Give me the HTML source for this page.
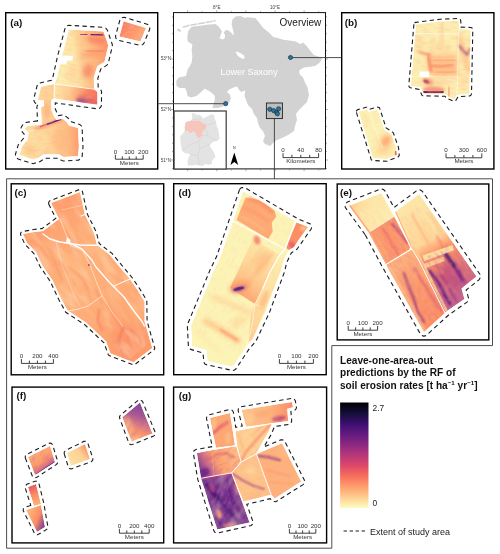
<!DOCTYPE html>
<html><head><meta charset="utf-8"><title>Figure</title>
<style>
html,body{margin:0;padding:0;background:#fff;}
svg{display:block;font-family:"Liberation Sans",sans-serif;}
</style></head><body>
<svg width="500" height="554" viewBox="0 0 500 554">
<rect width="500" height="554" fill="#fff"/>
<defs>

<filter id="b05" x="-50%" y="-50%" width="200%" height="200%"><feGaussianBlur stdDeviation="0.5"/></filter>
<filter id="b1" x="-50%" y="-50%" width="200%" height="200%"><feGaussianBlur stdDeviation="1"/></filter>
<filter id="b2" x="-50%" y="-50%" width="200%" height="200%"><feGaussianBlur stdDeviation="2"/></filter>
<filter id="b3" x="-50%" y="-50%" width="200%" height="200%"><feGaussianBlur stdDeviation="3"/></filter>
<filter id="b5" x="-50%" y="-50%" width="200%" height="200%"><feGaussianBlur stdDeviation="5"/></filter>
<filter id="nzr" x="0" y="0" width="100%" height="100%" filterUnits="objectBoundingBox"><feTurbulence type="fractalNoise" baseFrequency="0.14 0.4" numOctaves="3" seed="4"/><feColorMatrix type="matrix" values="0 0 0 0 0.95  0 0 0 0 0.40  0 0 0 0 0.36  3.2 0 0 0 -1.45"/></filter>
<filter id="nzp" x="0" y="0" width="100%" height="100%" filterUnits="objectBoundingBox"><feTurbulence type="fractalNoise" baseFrequency="0.14 0.4" numOctaves="3" seed="9"/><feColorMatrix type="matrix" values="0 0 0 0 0.39  0 0 0 0 0.10  0 0 0 0 0.50  3.2 0 0 0 -1.45"/></filter>
<filter id="nzl" x="0" y="0" width="100%" height="100%" filterUnits="objectBoundingBox"><feTurbulence type="fractalNoise" baseFrequency="0.14 0.4" numOctaves="3" seed="14"/><feColorMatrix type="matrix" values="0 0 0 0 0.99  0 0 0 0 0.90  0 0 0 0 0.68  3.2 0 0 0 -1.45"/></filter>
<filter id="nzl2" x="0" y="0" width="100%" height="100%" filterUnits="objectBoundingBox"><feTurbulence type="fractalNoise" baseFrequency="0.04 0.12" numOctaves="2" seed="21"/><feColorMatrix type="matrix" values="0 0 0 0 0.996  0 0 0 0 0.84  0 0 0 0 0.60  3.2 0 0 0 -1.45"/></filter>
<linearGradient id="magma" x1="0" y1="0" x2="0" y2="1">
<stop offset="0" stop-color="#000004"/><stop offset=".1" stop-color="#140e36"/><stop offset=".2" stop-color="#3b0f70"/>
<stop offset=".3" stop-color="#641a80"/><stop offset=".4" stop-color="#8c2981"/><stop offset=".5" stop-color="#b73779"/>
<stop offset=".6" stop-color="#de4968"/><stop offset=".7" stop-color="#f7705c"/><stop offset=".8" stop-color="#fe9f6d"/>
<stop offset=".9" stop-color="#fecf92"/><stop offset="1" stop-color="#fcfdbf"/></linearGradient>
<clipPath id="c1"><polygon points="123.6,21.2 146.0,27.9 140.4,41.5 119.4,36.6"/></clipPath><linearGradient id="ga1" gradientUnits="userSpaceOnUse" x1="121" y1="24" x2="144" y2="40"><stop offset="0" stop-color="#f97b5d"/><stop offset="0.5" stop-color="#fd9668"/><stop offset="1" stop-color="#feb27a"/></linearGradient><clipPath id="c2"><polygon points="68.8,29.4 103.5,31.5 108.3,45.5 104.5,61.8 97.3,66.3 93.8,77.4 94.2,89.4 54.6,84.0 57.0,77.4 61.6,57.0 66.4,39.0"/></clipPath><linearGradient id="ga2" gradientUnits="userSpaceOnUse" x1="62" y1="60" x2="108" y2="54"><stop offset="0" stop-color="#fceeb0"/><stop offset="0.28" stop-color="#fde5a7"/><stop offset="0.44" stop-color="#fecc8f"/><stop offset="0.75" stop-color="#feb27a"/><stop offset="1" stop-color="#fd9869"/></linearGradient><clipPath id="c3"><polygon points="54.6,84.0 94.2,89.2 97.4,92.0 97.4,104.7 54.2,98.6"/></clipPath><linearGradient id="ga3" gradientUnits="userSpaceOnUse" x1="55" y1="92" x2="98" y2="98"><stop offset="0" stop-color="#fde3a5"/><stop offset="0.3" stop-color="#fecf92"/><stop offset="0.55" stop-color="#feaa74"/><stop offset="0.8" stop-color="#f97b5d"/><stop offset="1" stop-color="#f4695c"/></linearGradient><clipPath id="c4"><polygon points="41.0,86.8 54.0,84.0 54.0,98.4 51.2,100.2 51.2,109.6 53.6,115.6 56.5,120.0 62.7,119.1 66.3,121.8 69.0,125.4 78.0,128.1 78.9,147.0 78.0,156.0 63.6,156.9 59.1,154.2 43.8,154.2 38.4,157.8 33.0,159.6 19.5,155.1 22.2,146.1 27.6,139.8 28.5,132.6 24.9,129.0 26.7,126.3 42.0,124.5 41.6,121.6 41.0,107.2 44.0,106.0 44.0,100.4 38.0,100.0 38.2,98.2"/></clipPath><linearGradient id="ga4" gradientUnits="userSpaceOnUse" x1="22" y1="140" x2="80" y2="138"><stop offset="0" stop-color="#fde3a5"/><stop offset="0.5" stop-color="#fed395"/><stop offset="0.8" stop-color="#febb81"/><stop offset="1" stop-color="#fd9b6b"/></linearGradient><clipPath id="c5"><polygon points="415.9,24.4 440.6,21.2 458.7,20.5 459.2,29.0 470.8,29.5 469.5,93.9 456.9,94.8 454.2,99.4 447.8,96.6 446.0,94.3 423.5,93.9 420.8,87.6 410.8,85.8 413.5,55.1"/></clipPath><clipPath id="c6"><polygon points="358.6,111.8 366.6,109.4 369.0,111.8 377.8,109.4 384.2,129.4 391.4,134.2 396.2,147.8 397.0,155.0 386.6,159.0 373.0,158.2"/></clipPath><clipPath id="c7"><polygon points="51.0,203.0 80.0,192.0 85.0,215.0 94.0,233.0 97.0,245.0 110.0,255.0 118.0,265.0 130.0,279.0 138.0,290.8 144.6,301.8 144.6,321.6 152.3,348.0 133.6,362.3 110.5,353.5 106.1,341.4 86.3,322.7 67.6,310.6 61.0,298.5 52.2,279.8 42.0,265.0 36.0,252.0 27.0,243.0 23.0,234.0 34.0,232.0 43.0,231.0 59.0,219.0"/></clipPath><linearGradient id="gc1" gradientUnits="userSpaceOnUse" x1="40" y1="230" x2="150" y2="340"><stop offset="0" stop-color="#fea16e"/><stop offset="0.35" stop-color="#feb27a"/><stop offset="0.7" stop-color="#feaa74"/><stop offset="1" stop-color="#fd9b6b"/></linearGradient><clipPath id="c8"><polygon points="243.0,191.0 295.0,221.0 296.0,222.0 308.0,227.0 300.0,238.0 294.0,247.0 289.0,250.0 287.0,253.0 283.0,262.0 281.2,270.0 274.6,287.6 265.8,311.8 252.6,339.3 246.0,347.0 232.8,366.8 207.5,361.3 206.4,350.3 192.1,345.9 191.0,325.0 193.2,320.6 214.0,270.0 220.0,258.0 233.0,221.0"/></clipPath><linearGradient id="gdb" gradientUnits="userSpaceOnUse" x1="268" y1="244" x2="238" y2="292"><stop offset="0" stop-color="#fde7a9"/><stop offset="0.45" stop-color="#fed799"/><stop offset="0.8" stop-color="#febf84"/><stop offset="1" stop-color="#fea571"/></linearGradient><linearGradient id="gds" gradientUnits="userSpaceOnUse" x1="284" y1="255" x2="250" y2="340"><stop offset="0" stop-color="#fcf0b2"/><stop offset="0.4" stop-color="#fde2a3"/><stop offset="1" stop-color="#fecf92"/></linearGradient><clipPath id="c9"><polygon points="349.0,205.7 381.4,193.1 394.3,216.5 368.8,232.7"/></clipPath><linearGradient id="ge1" gradientUnits="userSpaceOnUse" x1="352" y1="207" x2="392" y2="215"><stop offset="0" stop-color="#fed194"/><stop offset="0.25" stop-color="#fde5a7"/><stop offset="1" stop-color="#fceeb0"/></linearGradient><clipPath id="c10"><polygon points="368.8,232.7 394.3,216.5 410.2,247.0 409.3,249.8 385.9,264.2"/></clipPath><clipPath id="c11"><polygon points="394.9,212.0 419.2,194.0 476.5,276.5 461.5,288.5 464.5,299.0 445.0,312.5 419.2,260.6 410.6,246.8"/></clipPath><linearGradient id="ge2" gradientUnits="userSpaceOnUse" x1="408" y1="200" x2="462" y2="300"><stop offset="0" stop-color="#fde7a9"/><stop offset="0.4" stop-color="#fed799"/><stop offset="0.52" stop-color="#fd9668"/><stop offset="0.75" stop-color="#de7074"/><stop offset="1" stop-color="#c4648c"/></linearGradient><clipPath id="ce2lo"><polygon points="419,262 452,240 480,275 445,315"/></clipPath><clipPath id="c12"><polygon points="385.9,264.8 409.8,250.4 412.4,249.2 419.2,261.5 445.0,313.0 424.0,332.0"/></clipPath><linearGradient id="ge3" gradientUnits="userSpaceOnUse" x1="392" y1="262" x2="440" y2="322"><stop offset="0" stop-color="#feb47b"/><stop offset="0.5" stop-color="#fd9869"/><stop offset="1" stop-color="#fc8e64"/></linearGradient><clipPath id="c13"><polygon points="28.0,457.0 50.0,446.0 55.0,462.0 35.0,475.0"/></clipPath><linearGradient id="gf1" gradientUnits="userSpaceOnUse" x1="33" y1="452" x2="48" y2="472"><stop offset="0" stop-color="#feb27a"/><stop offset="0.55" stop-color="#fd9668"/><stop offset="0.8" stop-color="#c8688a"/><stop offset="1" stop-color="#6a3588"/></linearGradient><clipPath id="c14"><polygon points="67.0,453.0 85.0,444.0 90.0,459.0 71.0,466.0"/></clipPath><linearGradient id="gf2" gradientUnits="userSpaceOnUse" x1="70" y1="462" x2="88" y2="448"><stop offset="0" stop-color="#fde0a1"/><stop offset="0.6" stop-color="#fecf92"/><stop offset="1" stop-color="#fc9065"/></linearGradient><clipPath id="c15"><polygon points="28.0,487.0 36.0,484.0 41.0,504.0 34.0,506.0"/></clipPath><linearGradient id="gf3" gradientUnits="userSpaceOnUse" x1="30" y1="486" x2="38" y2="505"><stop offset="0" stop-color="#ea5661"/><stop offset="0.5" stop-color="#fc8e64"/><stop offset="1" stop-color="#feb47b"/></linearGradient><clipPath id="c16"><polygon points="26.0,510.0 41.0,505.0 45.0,527.0 37.0,532.0"/></clipPath><linearGradient id="gf4" gradientUnits="userSpaceOnUse" x1="28" y1="515" x2="45" y2="522"><stop offset="0" stop-color="#feb27a"/><stop offset="0.55" stop-color="#fc9065"/><stop offset="1" stop-color="#8a4590"/></linearGradient><clipPath id="c17"><polygon points="139.9,402.6 152.5,433.4 131.5,441.8 122.4,417.3"/></clipPath><linearGradient id="gf5" gradientUnits="userSpaceOnUse" x1="142" y1="405" x2="132" y2="440"><stop offset="0" stop-color="#86449a"/><stop offset="0.3" stop-color="#a8588f"/><stop offset="0.55" stop-color="#d87a84"/><stop offset="0.78" stop-color="#fd9668"/><stop offset="1" stop-color="#fec488"/></linearGradient><clipPath id="c18"><polygon points="210.0,418.0 230.0,413.0 235.0,445.4 216.0,448.0"/></clipPath><clipPath id="c19"><polygon points="241.6,410.0 292.0,402.0 293.0,407.2 287.2,408.8 288.2,421.0 272.0,423.2 246.0,426.8"/></clipPath><linearGradient id="gg2" gradientUnits="userSpaceOnUse" x1="245" y1="415" x2="290" y2="410"><stop offset="0" stop-color="#fec488"/><stop offset="0.55" stop-color="#feb47b"/><stop offset="1" stop-color="#fc8e64"/></linearGradient><clipPath id="c20"><polygon points="235.0,431.0 272.0,423.6 268.0,433.0 262.0,443.0 256.4,454.0 241.2,462.0 237.0,447.0"/></clipPath><clipPath id="c21"><polygon points="196.8,452.8 236.4,446.0 241.2,462.0 231.6,472.9 201.1,478.2"/></clipPath><linearGradient id="gg4" gradientUnits="userSpaceOnUse" x1="238" y1="452" x2="199" y2="476"><stop offset="0" stop-color="#febf84"/><stop offset="0.5" stop-color="#fea16e"/><stop offset="0.72" stop-color="#c8688a"/><stop offset="0.95" stop-color="#6a3588"/></linearGradient><clipPath id="c22"><polygon points="201.1,478.2 231.6,472.9 249.6,522.4 217.2,529.6"/></clipPath><clipPath id="c23"><polygon points="231.6,472.9 241.2,462.0 256.4,454.0 271.2,494.8 243.2,501.6"/></clipPath><clipPath id="c24"><polygon points="256.4,454.0 282.0,443.2 301.2,481.6 274.8,498.4 271.2,494.8"/></clipPath>
</defs>
<path d="M6.6 178.8H492.5V345.6H331.8V548.2H6.6Z" fill="none" stroke="#4d4d4d" stroke-width="1"/>
<rect x="5.7" y="12.7" width="152.0" height="156.3" fill="#fff" stroke="#000" stroke-width="1.4"/>
<rect x="173.5" y="12.6" width="152.0" height="156.3" fill="#fff" stroke="#111" stroke-width="1.0"/>
<rect x="341.7" y="12.7" width="152.2" height="156.3" fill="#fff" stroke="#000" stroke-width="1.4"/>
<rect x="11.2" y="183.8" width="152.5" height="191.0" fill="#fff" stroke="#000" stroke-width="1.4"/>
<rect x="173.7" y="183.7" width="152.5" height="191.0" fill="#fff" stroke="#000" stroke-width="1.4"/>
<rect x="337.2" y="184.0" width="151.6" height="155.9" fill="#fff" stroke="#000" stroke-width="1.4"/>
<rect x="12.0" y="387.1" width="151.7" height="155.8" fill="#fff" stroke="#000" stroke-width="1.4"/>
<rect x="173.6" y="387.1" width="153.0" height="155.8" fill="#fff" stroke="#000" stroke-width="1.4"/>
<polygon points="191.6,26.8 198.0,26.0 206.8,24.7 215.6,24.1 218.8,26.8 222.0,31.6 220.4,35.6 219.6,38.0 222.0,39.6 224.4,38.8 225.2,35.6 223.6,32.4 226.0,30.0 229.2,30.8 232.4,34.0 234.0,35.6 233.2,30.8 231.6,24.4 232.4,19.6 235.6,16.4 240.4,16.1 245.2,18.0 247.2,17.2 255.3,18.1 259.8,23.5 263.4,28.0 268.8,32.5 273.3,37.0 277.8,37.9 283.2,39.7 289.5,40.6 295.8,41.5 300.3,44.2 303.0,42.4 306.6,46.0 310.2,50.5 313.8,55.0 319.2,56.8 321.9,58.6 320.1,62.2 315.6,65.8 310.2,66.7 303.9,67.6 299.4,70.3 299.4,73.9 303.0,77.5 304.8,82.0 307.5,87.4 309.0,95.0 307.0,102.0 303.0,106.0 299.0,110.0 296.0,114.0 297.0,120.0 295.0,126.0 294.0,131.0 288.0,135.0 282.0,138.0 277.0,140.0 273.0,143.0 270.0,146.0 265.0,144.0 263.0,141.0 265.0,136.0 263.0,131.0 260.0,128.0 258.0,123.0 257.0,118.0 254.0,114.0 252.0,109.0 248.0,105.0 246.0,100.0 244.5,96.0 245.2,90.4 241.2,92.0 238.8,89.6 237.2,86.4 234.0,87.2 229.2,89.6 226.8,92.0 230.0,94.4 230.8,98.4 229.2,102.4 226.0,104.0 222.8,106.4 218.0,108.0 212.4,108.0 213.5,104.0 214.8,100.0 214.8,96.0 212.4,93.6 208.4,90.4 204.4,88.8 201.2,92.0 196.4,96.0 190.8,97.6 187.6,96.0 186.8,92.0 185.2,88.0 179.6,88.0 176.4,85.6 176.4,80.8 178.8,77.6 186.0,76.0 187.6,69.6 188.4,68.4 191.6,62.8 192.4,56.4 191.6,50.0 192.4,44.4 187.6,41.2 187.3,36.4 188.4,30.8" fill="#d2d2d2"/>
<path d="M182.8 27.2L190 25.2L200 23.6L210 21.8L215.6 20.6" stroke="#d2d2d2" stroke-width="1.5" fill="none" stroke-dasharray="7 0.8"/>
<ellipse cx="179" cy="30.2" rx="2.2" ry="1.2" fill="#d2d2d2" transform="rotate(30 179 30.2)"/>
<polygon points="235.5,51.5 238,52 241,53.5 244,55.5 244.8,58 243,59 240,57.5 237.5,55.5" fill="#fff"/>
<text x="220.6" y="75.2" font-size="9" fill="#fff">Lower Saxony</text>
<text x="279.6" y="25.7" font-size="10" fill="#1a1a1a">Overview</text>
<path d="M187.7 12.2V10.399999999999999M187.7 169.4V171.20000000000002M202.2 12.2V11.1M202.2 169.4V170.5M216.8 12.2V10.399999999999999M216.8 169.4V171.20000000000002M231.4 12.2V11.1M231.4 169.4V170.5M245.9 12.2V10.399999999999999M245.9 169.4V171.20000000000002M260.5 12.2V11.1M260.5 169.4V170.5M275.0 12.2V10.399999999999999M275.0 169.4V171.20000000000002M289.6 12.2V11.1M289.6 169.4V170.5M304.1 12.2V10.399999999999999M304.1 169.4V171.20000000000002M318.7 12.2V11.1M318.7 169.4V170.5M173 16.9H172.0M326 16.9H327.0M173 25.3H172.0M326 25.3H327.0M173 33.7H172.0M326 33.7H327.0M173 42.2H172.0M326 42.2H327.0M173 50.6H172.0M326 50.6H327.0M173 59.0H171.2M326 59.0H327.8M173 67.4H172.0M326 67.4H327.0M173 75.8H172.0M326 75.8H327.0M173 84.3H172.0M326 84.3H327.0M173 92.7H172.0M326 92.7H327.0M173 101.1H172.0M326 101.1H327.0M173 109.5H171.2M326 109.5H327.8M173 117.9H172.0M326 117.9H327.0M173 126.4H172.0M326 126.4H327.0M173 134.8H172.0M326 134.8H327.0M173 143.2H172.0M326 143.2H327.0M173 151.6H172.0M326 151.6H327.0M173 160.0H171.2M326 160.0H327.8M173 168.5H172.0M326 168.5H327.0" stroke="#555" stroke-width="0.5" fill="none"/>
<text x="216.8" y="9.4" font-size="4.6" text-anchor="middle" fill="#444">8°E</text>
<text x="275" y="9.4" font-size="4.6" text-anchor="middle" fill="#444">10°E</text>
<text x="171" y="60.4" font-size="4.6" text-anchor="end" fill="#444">53°N</text>
<text x="171" y="111.4" font-size="4.6" text-anchor="end" fill="#444">52°N</text>
<text x="171" y="161.9" font-size="4.6" text-anchor="end" fill="#444">51°N</text>
<path d="M158.4 103.7H225.7M290.5 57.6H341M274.4 118.6V179" stroke="#3a3a3a" stroke-width="0.9" fill="none"/>
<rect x="266.4" y="103" width="16" height="15.6" fill="#bdbdbd" stroke="#222" stroke-width="0.9"/>
<circle cx="269.8" cy="109.3" r="2.1" fill="#2f7398" stroke="#143648" stroke-width="0.7"/>
<circle cx="273.6" cy="110.6" r="2.1" fill="#2f7398" stroke="#143648" stroke-width="0.7"/>
<circle cx="276.6" cy="112.4" r="2.1" fill="#2f7398" stroke="#143648" stroke-width="0.7"/>
<circle cx="278.6" cy="108.8" r="2.1" fill="#2f7398" stroke="#143648" stroke-width="0.7"/>
<circle cx="277.4" cy="113.8" r="2.1" fill="#2f7398" stroke="#143648" stroke-width="0.7"/>
<circle cx="225.7" cy="103.7" r="2.1" fill="#2f7398" stroke="#143648" stroke-width="0.7"/>
<circle cx="290.5" cy="57.5" r="2.1" fill="#2f7398" stroke="#143648" stroke-width="0.7"/>
<rect x="174.1" y="111" width="52.1" height="58" fill="#fff" stroke="#4a4a4a" stroke-width="1.3"/>
<polygon points="191.6,113.6 194.4,113.3 196.5,115.0 199.3,114.7 202.1,116.4 202.1,118.5 204.9,117.8 208.4,115.7 211.9,114.3 214.0,115.0 214.7,118.5 216.1,122.0 216.8,126.2 218.2,129.0 218.9,133.9 219.6,138.8 216.8,140.9 214.0,141.6 210.5,143.7 209.8,146.5 212.6,150.0 214.7,154.2 215.4,157.0 213.3,159.1 211.9,161.2 211.9,164.0 208.4,164.7 205.6,164.0 202.1,166.1 199.3,165.4 195.8,164.7 192.3,165.4 188.1,165.4 187.4,161.9 188.8,157.0 190.2,154.2 187.4,153.5 183.9,152.8 181.8,150.0 181.1,145.8 180.4,140.9 180.4,136.0 183.2,133.2 184.6,130.4 185.3,127.6 184.6,124.8 186.0,122.0 189.5,121.3 191.6,119.9 192.3,116.4" fill="#e3e3e3"/>
<polyline points="202.1,135.3 198.6,141.6 190.2,144.4 182.5,150.0" fill="none" stroke="#cfcfcf" stroke-width="0.5"/>
<polyline points="198.6,141.6 200.0,148.6 205.6,145.8 210.5,143.7" fill="none" stroke="#cfcfcf" stroke-width="0.5"/>
<polyline points="200.0,148.6 197.9,155.6 190.2,154.2" fill="none" stroke="#cfcfcf" stroke-width="0.5"/>
<polyline points="197.9,155.6 199.3,165.4" fill="none" stroke="#cfcfcf" stroke-width="0.5"/>
<polyline points="205.6,128.3 208.4,136.0 216.8,140.9" fill="none" stroke="#cfcfcf" stroke-width="0.5"/>
<polyline points="206.3,125.5 214.0,123.4 216.1,122.0" fill="none" stroke="#cfcfcf" stroke-width="0.5"/>
<polyline points="208.4,136.0 202.1,135.3" fill="none" stroke="#cfcfcf" stroke-width="0.5"/>
<polyline points="191.6,119.9 202.1,118.5" fill="none" stroke="#cfcfcf" stroke-width="0.5"/>
<polygon points="186.0,122.0 189.5,121.3 191.6,120.6 194.4,120.9 197.2,120.6 200.0,121.3 202.1,122.7 204.9,124.1 206.3,125.5 205.6,128.3 203.5,130.4 202.1,132.5 202.1,135.3 199.3,137.4 197.2,138.1 196.5,135.3 195.1,132.5 193.0,131.1 190.9,133.2 189.5,132.5 188.1,131.1 185.3,131.1 184.6,127.6 185.3,124.8" fill="#f7c5bb"/>
<polygon points="234.3,152.6 238.2,164.9 234.3,162 230.4,164.9" fill="#000"/>
<text x="234.3" y="149.3" font-size="3.6" text-anchor="middle" fill="#333">N</text>
<g clip-path="url(#c1)"><polygon points="123.6,21.2 146.0,27.9 140.4,41.5 119.4,36.6" fill="url(#ga1)"/><rect x="118" y="20" width="30" height="24" filter="url(#nzr)" opacity="0.5" transform="rotate(-15 133.0 32.0)"/></g>
<g clip-path="url(#c2)"><polygon points="68.8,29.4 103.5,31.5 108.3,45.5 104.5,61.8 97.3,66.3 93.8,77.4 94.2,89.4 54.6,84.0 57.0,77.4 61.6,57.0 66.4,39.0" fill="url(#ga2)"/><ellipse cx="96" cy="40" rx="11" ry="3.5" fill="#f8765c" opacity="0.7" filter="url(#b2)" transform="rotate(6 96 40)"/><path d="M86 50.5 L94 51.5 L103 50.5" fill="none" stroke="#e75263" stroke-width="1.6" opacity="0.7" stroke-linecap="round" stroke-linejoin="round" filter="url(#b1)"/><ellipse cx="92" cy="54" rx="12" ry="3" fill="#fc8e64" opacity="0.5" filter="url(#b2)" transform="rotate(-8 92 54)"/><path d="M80.6 34.2 L87 34.5" fill="none" stroke="#701f81" stroke-width="1.1" opacity="0.9" stroke-linecap="round" stroke-linejoin="round" filter="url(#b05)"/><path d="M91 34.6 L102.8 34.9" fill="none" stroke="#4f127b" stroke-width="1.2" opacity="0.95" stroke-linecap="round" stroke-linejoin="round" filter="url(#b05)"/><ellipse cx="88" cy="71" rx="5" ry="7" fill="#f97b5d" opacity="0.7" filter="url(#b2)" transform="rotate(10 88 71)"/><ellipse cx="72" cy="74" rx="7" ry="9" fill="#fed597" opacity="0.6" filter="url(#b2)"/><ellipse cx="84" cy="44" rx="5" ry="8" fill="#fecc8f" opacity="0.4" filter="url(#b2)"/><rect x="50" y="25" width="62" height="70" filter="url(#nzr)" opacity="0.22" transform="rotate(8 81.0 60.0)"/></g>
<g clip-path="url(#c3)"><polygon points="54.6,84.0 94.2,89.2 97.4,92.0 97.4,104.7 54.2,98.6" fill="url(#ga3)"/><ellipse cx="86" cy="100" rx="9" ry="3.5" fill="#c8587a" opacity="0.75" filter="url(#b2)" transform="rotate(18 86 100)"/><ellipse cx="81" cy="101" rx="5" ry="1.8" fill="#8a3f8a" opacity="0.8" filter="url(#b1)" transform="rotate(18 81 101)"/><ellipse cx="93" cy="95" rx="4" ry="3" fill="#fc8e64" opacity="0.5" filter="url(#b2)"/><rect x="52" y="82" width="48" height="25" filter="url(#nzr)" opacity="0.3" transform="rotate(8 76.0 94.5)"/></g>
<g clip-path="url(#c4)"><polygon points="41.0,86.8 54.0,84.0 54.0,98.4 51.2,100.2 51.2,109.6 53.6,115.6 56.5,120.0 62.7,119.1 66.3,121.8 69.0,125.4 78.0,128.1 78.9,147.0 78.0,156.0 63.6,156.9 59.1,154.2 43.8,154.2 38.4,157.8 33.0,159.6 19.5,155.1 22.2,146.1 27.6,139.8 28.5,132.6 24.9,129.0 26.7,126.3 42.0,124.5 41.6,121.6 41.0,107.2 44.0,106.0 44.0,100.4 38.0,100.0 38.2,98.2" fill="url(#ga4)"/><path d="M36 129 L47 125 L61 119.5" fill="none" stroke="#f8765c" stroke-width="3.5" opacity="0.5" stroke-linecap="round" stroke-linejoin="round" filter="url(#b1)"/><path d="M40.4 126.6 L44 125.2 L47.6 124" fill="none" stroke="#d6456c" stroke-width="1.2" opacity="0.8" stroke-linecap="round" stroke-linejoin="round" filter="url(#b05)"/><path d="M47.6 124 L52 122.6 L56 121 L60.8 119.3" fill="none" stroke="#641a80" stroke-width="1.4" opacity="0.95" stroke-linecap="round" stroke-linejoin="round" filter="url(#b05)"/><ellipse cx="47" cy="110" rx="3.5" ry="9" fill="#fea36f" opacity="0.6" filter="url(#b2)"/><ellipse cx="48" cy="93" rx="5" ry="6" fill="#fed597" opacity="0.8" filter="url(#b2)"/><ellipse cx="40" cy="142" rx="9" ry="10" fill="#fddea0" opacity="0.6" filter="url(#b2)"/><ellipse cx="60" cy="140" rx="8" ry="10" fill="#feb77e" opacity="0.5" filter="url(#b2)"/><ellipse cx="30" cy="150" rx="6" ry="5" fill="#feb77e" opacity="0.5" filter="url(#b2)"/><rect x="18" y="84" width="64" height="78" filter="url(#nzr)" opacity="0.25"/></g><polygon points="59,55.8 72.8,55.8 72.8,60.6 67,60.6 66,64.2 58,64.2" fill="#fff"/><path d="M54.6 84 L94.2 89.3" fill="none" stroke="#fff" stroke-width="0.7" opacity="1" stroke-linecap="round" stroke-linejoin="round"/><path d="M54.3 84 L54.1 98.6" fill="none" stroke="#fff" stroke-width="0.7" opacity="1" stroke-linecap="round" stroke-linejoin="round"/><path d="M38 130 L28 131" fill="none" stroke="#fff" stroke-width="0.6" opacity="0.6" stroke-linecap="round" stroke-linejoin="round"/><path d="M119.9 20.0 L115.6 35.8 L115.7 37.7 L116.6 39.4 L118.5 40.4 L139.7 45.3 L141.3 45.3 L143.0 44.4 L144.0 43.0 L149.7 29.2 L149.8 27.0 L148.9 25.3 L147.1 24.2 L124.2 17.3 L121.6 17.9Z" fill="none" stroke="#1c1c1c" stroke-width="1.1" stroke-dasharray="4.4 3.3"/><path d="M37.5 120.9 L25.3 122.5 L23.6 123.6 L21.4 126.9 L20.8 128.8 L21.0 130.4 L24.2 134.1 L23.7 138.1 L18.3 144.7 L15.4 154.5 L15.6 156.5 L16.7 158.1 L18.2 159.0 L33.0 163.7 L40.2 161.5 L45.0 158.3 L58.0 158.3 L61.7 160.5 L63.6 161.0 L78.5 160.1 L81.0 158.8 L82.1 156.6 L83.0 147.1 L82.1 127.9 L81.7 126.2 L79.7 124.4 L71.5 121.9 L69.2 118.9 L64.3 115.3 L62.7 115.0 L58.5 115.6 L57.3 113.7 L55.3 108.8 L55.3 102.9 L97.0 108.8 L99.1 108.4 L100.9 106.9 L101.5 104.9 L101.5 91.4 L100.7 89.6 L98.2 87.3 L97.9 78.0 L100.8 69.0 L106.9 65.2 L108.3 63.3 L112.4 45.9 L112.2 44.2 L107.4 30.2 L105.8 28.1 L103.7 27.4 L68.9 25.3 L66.9 25.8 L65.4 27.1 L57.6 56.0 L53.1 76.2 L51.6 80.3 L39.6 83.0 L38.1 83.9 L37.1 85.6 L34.2 97.2 L33.9 100.2 L34.3 101.7 L35.3 103.1 L36.7 103.9 L38.3 104.1 L37.2 105.6 L36.9 107.2Z" fill="none" stroke="#1c1c1c" stroke-width="1.1" stroke-dasharray="4.4 3.3"/>
<g clip-path="url(#c5)"><polygon points="415.9,24.4 440.6,21.2 458.7,20.5 459.2,29.0 470.8,29.5 469.5,93.9 456.9,94.8 454.2,99.4 447.8,96.6 446.0,94.3 423.5,93.9 420.8,87.6 410.8,85.8 413.5,55.1" fill="#fceeb0"/><polygon points="426,55 457,54.5 458,76 436,77 429,72" fill="#feb97f" opacity=".85" filter="url(#b2)"/><ellipse cx="440" cy="48" rx="12" ry="5" fill="#fed799" opacity="0.6" filter="url(#b2)" transform="rotate(10 440 48)"/><path d="M418.5 51.5 L424 53.5 L430 54.6" fill="none" stroke="#f8765c" stroke-width="2.2" opacity="0.8" stroke-linecap="round" stroke-linejoin="round" filter="url(#b1)"/><path d="M428.5 57 L429.5 64 L431 71" fill="none" stroke="#f97b5d" stroke-width="3" opacity="0.75" stroke-linecap="round" stroke-linejoin="round" filter="url(#b1)"/><path d="M433 59.5 L444 60.5 L455 60" fill="none" stroke="#fc8e64" stroke-width="1.8" opacity="0.6" stroke-linecap="round" stroke-linejoin="round" filter="url(#b1)"/><path d="M432 66 L442 66.5 L452 65" fill="none" stroke="#f8765c" stroke-width="2.6" opacity="0.6" stroke-linecap="round" stroke-linejoin="round" filter="url(#b1)"/><path d="M436 72.5 L446 72.5 L455 71.5" fill="none" stroke="#fc8e64" stroke-width="1.8" opacity="0.6" stroke-linecap="round" stroke-linejoin="round" filter="url(#b1)"/><ellipse cx="441.5" cy="34" rx="1.8" ry="12" fill="#fec68a" opacity="0.6" filter="url(#b1)"/><ellipse cx="420" cy="45" rx="5" ry="8" fill="#fed799" opacity="0.6" filter="url(#b2)" transform="rotate(10 420 45)"/><path d="M459.8 46 L463 50.5 L467 54.5" fill="none" stroke="#701f81" stroke-width="2.2" opacity="0.9" stroke-linecap="round" stroke-linejoin="round" filter="url(#b1)"/><path d="M467 54.5 L469.5 49" fill="none" stroke="#aa337d" stroke-width="1.8" opacity="0.8" stroke-linecap="round" stroke-linejoin="round" filter="url(#b1)"/><path d="M460 38 L464 54 L468.5 70" fill="none" stroke="#feae77" stroke-width="5" opacity="0.65" stroke-linecap="round" stroke-linejoin="round" filter="url(#b2)"/><path d="M424.6 91.7 L433 92.1 L442.4 91.9" fill="none" stroke="#451077" stroke-width="2.7" opacity="0.95" stroke-linecap="round" stroke-linejoin="round" filter="url(#b05)"/><ellipse cx="434" cy="89.5" rx="11" ry="3" fill="#f56b5c" opacity="0.65" filter="url(#b1)" transform="rotate(2 434 89.5)"/><ellipse cx="426.5" cy="81.6" rx="3.2" ry="1.8" fill="#641a80" opacity="0.9" filter="url(#b05)" transform="rotate(22 426.5 81.6)"/><ellipse cx="428" cy="81.5" rx="6" ry="3.5" fill="#f8765c" opacity="0.6" filter="url(#b1)" transform="rotate(20 428 81.5)"/><path d="M448.3 87.6 L448.8 95.7" fill="none" stroke="#f8765c" stroke-width="2" opacity="0.8" stroke-linecap="round" stroke-linejoin="round" filter="url(#b1)"/><ellipse cx="440" cy="83" rx="10" ry="3" fill="#fec68a" opacity="0.5" filter="url(#b2)"/><ellipse cx="463" cy="82" rx="4" ry="8" fill="#fed799" opacity="0.5" filter="url(#b2)"/><rect x="408" y="18" width="66" height="84" filter="url(#nzr)" opacity="0.22" transform="rotate(3 441.0 60.0)"/></g>
<g clip-path="url(#c6)"><polygon points="358.6,111.8 366.6,109.4 369.0,111.8 377.8,109.4 384.2,129.4 391.4,134.2 396.2,147.8 397.0,155.0 386.6,159.0 373.0,158.2" fill="#fcf2b4"/><ellipse cx="384" cy="146" rx="9" ry="12" fill="#fde2a3" opacity="0.7" filter="url(#b3)" transform="rotate(-20 384 146)"/><ellipse cx="386" cy="141" rx="4.5" ry="6.5" fill="#fea36f" opacity="0.85" filter="url(#b2)" transform="rotate(30 386 141)"/><ellipse cx="383" cy="150" rx="7" ry="3" fill="#fec68a" opacity="0.6" filter="url(#b2)" transform="rotate(-20 383 150)"/><ellipse cx="395.8" cy="153" rx="1" ry="2.5" fill="#ed5a5f" opacity="0.9" filter="url(#b05)"/><ellipse cx="366" cy="120" rx="3" ry="8" fill="#fde3a5" opacity="0.6" filter="url(#b2)" transform="rotate(-18 366 120)"/><rect x="356" y="108" width="44" height="54" filter="url(#nzr)" opacity="0.1" transform="rotate(-18 378.0 135.0)"/></g><rect x="419.5" y="71.4" width="9.6" height="5.8" fill="#fff"/><path d="M415 33.5 L458.8 34" fill="none" stroke="#fff" stroke-width="0.6" opacity="0.8" stroke-linecap="round" stroke-linejoin="round"/><path d="M458.9 29 L457 94.5" fill="none" stroke="#fff" stroke-width="0.6" opacity="0.8" stroke-linecap="round" stroke-linejoin="round"/><path d="M440.6 21.2 L441.5 45" fill="none" stroke="#fff" stroke-width="0.5" opacity="0.5" stroke-linecap="round" stroke-linejoin="round"/><path d="M411.5 76.5 L457 76.8" fill="none" stroke="#fff" stroke-width="0.5" opacity="0.7" stroke-linecap="round" stroke-linejoin="round"/><path d="M432 59 L457.5 59" fill="none" stroke="#fff" stroke-width="0.5" opacity="0.5" stroke-linecap="round" stroke-linejoin="round"/><path d="M368.8 112 L382.5 148" fill="none" stroke="#fff" stroke-width="0.5" opacity="0.8" stroke-linecap="round" stroke-linejoin="round"/><path d="M413.9 24.2 L408.8 85.6 L409.2 87.0 L410.4 87.8 L419.4 89.4 L421.7 94.8 L422.8 95.8 L445.0 96.3 L446.7 98.3 L453.9 101.4 L455.6 100.8 L458.1 96.7 L469.7 95.9 L470.8 95.4 L471.5 93.9 L472.8 29.5 L472.3 28.2 L471.0 27.5 L461.1 27.1 L460.7 20.1 L460.0 19.0 L458.9 18.5 L440.3 19.2 L415.5 22.4 L414.4 23.1Z" fill="none" stroke="#1c1c1c" stroke-width="1.1" stroke-dasharray="4.4 3.3"/><path d="M356.4 112.4 L371.3 159.8 L372.8 160.5 L386.8 161.3 L398.5 156.7 L399.3 155.1 L398.5 147.4 L393.5 133.3 L392.8 132.3 L386.1 127.9 L379.5 107.8 L377.5 107.1 L369.7 109.2 L367.8 107.4 L366.1 107.2 L357.4 109.8 L356.5 110.8Z" fill="none" stroke="#1c1c1c" stroke-width="1.1" stroke-dasharray="4.4 3.3"/>
<g clip-path="url(#c7)"><polygon points="51.0,203.0 80.0,192.0 85.0,215.0 94.0,233.0 97.0,245.0 110.0,255.0 118.0,265.0 130.0,279.0 138.0,290.8 144.6,301.8 144.6,321.6 152.3,348.0 133.6,362.3 110.5,353.5 106.1,341.4 86.3,322.7 67.6,310.6 61.0,298.5 52.2,279.8 42.0,265.0 36.0,252.0 27.0,243.0 23.0,234.0 34.0,232.0 43.0,231.0 59.0,219.0" fill="url(#gc1)"/><ellipse cx="70" cy="270" rx="8" ry="22" fill="#fec287" opacity="0.55" filter="url(#b3)" transform="rotate(-28 70 270)"/><ellipse cx="100" cy="300" rx="7" ry="20" fill="#feb77e" opacity="0.5" filter="url(#b3)" transform="rotate(-35 100 300)"/><ellipse cx="66" cy="205" rx="12" ry="6" fill="#fe9f6d" opacity="0.6" filter="url(#b2)" transform="rotate(-20 66 205)"/><ellipse cx="85" cy="228" rx="8" ry="8" fill="#feb77e" opacity="0.5" filter="url(#b2)"/><ellipse cx="124" cy="340" rx="12" ry="14" fill="#fc8e64" opacity="0.45" filter="url(#b3)" transform="rotate(-20 124 340)"/><ellipse cx="136" cy="312" rx="6" ry="10" fill="#feb97f" opacity="0.6" filter="url(#b2)" transform="rotate(-30 136 312)"/><path d="M123.2 327.6 L120 336.4 L118.4 342.8 L122.4 354 L128 360.4" fill="none" stroke="#f4695c" stroke-width="2" opacity="0.65" stroke-linecap="round" stroke-linejoin="round" filter="url(#b1)"/><path d="M123.2 327.6 L132.8 331.6 L139.2 336.4 L140.8 344.4" fill="none" stroke="#f4695c" stroke-width="1.9" opacity="0.6" stroke-linecap="round" stroke-linejoin="round" filter="url(#b1)"/><path d="M99.2 309.2 L97.6 322 L102.4 330" fill="none" stroke="#f66e5c" stroke-width="1.9" opacity="0.6" stroke-linecap="round" stroke-linejoin="round" filter="url(#b1)"/><path d="M107.2 303.6 L114 316 L120 326" fill="none" stroke="#f97b5d" stroke-width="1.8" opacity="0.5" stroke-linecap="round" stroke-linejoin="round" filter="url(#b1)"/><path d="M128 336 L131 346 L130 356" fill="none" stroke="#f97b5d" stroke-width="1.8" opacity="0.5" stroke-linecap="round" stroke-linejoin="round" filter="url(#b1)"/><path d="M96 290 L100 300 L104 310" fill="none" stroke="#f97b5d" stroke-width="1.8" opacity="0.45" stroke-linecap="round" stroke-linejoin="round" filter="url(#b1)"/><path d="M60 262 L75 285" fill="none" stroke="#f97b5d" stroke-width="1.8" opacity="0.45" stroke-linecap="round" stroke-linejoin="round" filter="url(#b1)"/><path d="M40 250 L55 262 L62 280" fill="none" stroke="#f97b5d" stroke-width="1.8" opacity="0.45" stroke-linecap="round" stroke-linejoin="round" filter="url(#b1)"/><path d="M70 268 L84 280 L90 296" fill="none" stroke="#f97b5d" stroke-width="1.8" opacity="0.4" stroke-linecap="round" stroke-linejoin="round" filter="url(#b1)"/><path d="M30 236 L44 246 L52 262" fill="none" stroke="#fec287" stroke-width="2" opacity="0.5" stroke-linecap="round" stroke-linejoin="round" filter="url(#b1)"/><ellipse cx="89" cy="265" rx="1.1" ry="1.1" fill="#912b81" opacity="0.9" filter="url(#b05)"/><rect x="0" y="200" width="170" height="170" filter="url(#nzr)" opacity="0.2" transform="rotate(50 85.0 285.0)"/><rect x="0" y="200" width="170" height="170" filter="url(#nzl2)" opacity="0.3" transform="rotate(52 85.0 285.0)"/></g><path d="M43 234 L50 239 L60 242 L70 243.5 L80 245 L97 245.3" fill="none" stroke="#fff" stroke-width="1.5" opacity="1" stroke-linecap="round" stroke-linejoin="round"/><polygon points="67,237 70.5,240 70,243.5 66,242.5" fill="#fff"/><path d="M70 243 L82 249 L91.8 260 L96 267 L110 283 L124 297 L131 307 L137 315 L142.4 322 L144.4 326" fill="none" stroke="#fff" stroke-width="1.4" opacity="1" stroke-linecap="round" stroke-linejoin="round"/><path d="M60 219 L67 237 L70 245 L83 251 L90 265 L96 281 L102 295.5 L112 312 L122.6 326" fill="none" stroke="#fff" stroke-width="0.6" opacity="0.85" stroke-linecap="round" stroke-linejoin="round"/><path d="M56 241 L62 265 L74 295 L80 306" fill="none" stroke="#fff" stroke-width="0.5" opacity="0.6" stroke-linecap="round" stroke-linejoin="round"/><path d="M67.6 311 L77 309.4 L88 306 L102 296" fill="none" stroke="#fff" stroke-width="0.7" opacity="0.9" stroke-linecap="round" stroke-linejoin="round"/><path d="M114 286 L130 279" fill="none" stroke="#fff" stroke-width="1.0" opacity="1" stroke-linecap="round" stroke-linejoin="round"/><path d="M62 210 L83 205" fill="none" stroke="#fff" stroke-width="0.5" opacity="0.6" stroke-linecap="round" stroke-linejoin="round"/><path d="M81 216 L85 214.5" fill="none" stroke="#fff" stroke-width="1.2" opacity="1" stroke-linecap="round" stroke-linejoin="round"/><path d="M48.7 204.0 L55.8 218.3 L42.0 228.6 L33.6 229.5 L22.4 231.6 L21.3 232.1 L20.6 233.2 L20.6 234.7 L24.8 244.1 L33.9 253.5 L39.9 266.3 L50.0 281.0 L58.8 299.6 L65.8 312.3 L84.7 324.7 L104.0 342.8 L108.2 354.5 L109.1 355.6 L132.8 364.7 L134.8 364.5 L153.8 350.0 L154.8 348.4 L147.1 321.2 L146.8 300.6 L140.1 289.4 L132.0 277.5 L112.0 253.4 L99.2 243.5 L96.3 232.0 L87.4 214.2 L82.4 191.5 L81.7 190.2 L80.4 189.5 L79.2 189.6 L50.0 200.7 L48.7 202.1Z" fill="none" stroke="#1c1c1c" stroke-width="1.1" stroke-dasharray="4.4 3.3"/>
<g clip-path="url(#c8)"><polygon points="243.0,191.0 295.0,221.0 296.0,222.0 308.0,227.0 300.0,238.0 294.0,247.0 289.0,250.0 287.0,253.0 283.0,262.0 281.2,270.0 274.6,287.6 265.8,311.8 252.6,339.3 246.0,347.0 232.8,366.8 207.5,361.3 206.4,350.3 192.1,345.9 191.0,325.0 193.2,320.6 214.0,270.0 220.0,258.0 233.0,221.0" fill="#fcf4b6"/><polygon points="245.7,197.6 261,200.3 274.5,211.1 276.3,216.5 271.8,222.8 272.7,231.8 268.2,239 236.7,220.1 240.3,210.2" fill="#feaa74" filter="url(#b05)"/><path d="M250 199 L262 203.5 L272 212" fill="none" stroke="#fb8761" stroke-width="4" opacity="0.6" stroke-linecap="round" stroke-linejoin="round" filter="url(#b1)"/><path d="M244 208 L256 213 L268 221" fill="none" stroke="#fc9065" stroke-width="3" opacity="0.45" stroke-linecap="round" stroke-linejoin="round" filter="url(#b1)"/><path d="M240 216 L252 222 L264 230" fill="none" stroke="#fec287" stroke-width="2.5" opacity="0.5" stroke-linecap="round" stroke-linejoin="round" filter="url(#b1)"/><polygon points="296.6,222.4 308,227 300,238 294,247 289,250 285.5,247.5" fill="#fc8e64" filter="url(#b05)"/><ellipse cx="303.5" cy="228.5" rx="3.5" ry="2.5" fill="#fec68a" opacity="0.85" filter="url(#b1)"/><ellipse cx="292" cy="245" rx="2.5" ry="4" fill="#e04c67" opacity="0.7" filter="url(#b1)" transform="rotate(-30 292 245)"/><polygon points="253,239 281,255.5 270,272 263,288 255,304 230,288" fill="url(#gdb)" opacity=".95" filter="url(#b05)"/><ellipse cx="257" cy="240" rx="3" ry="4.5" fill="#f4695c" opacity="0.75" filter="url(#b1)" transform="rotate(-20 257 240)"/><path d="M272 254 L262 266 L250 280" fill="none" stroke="#feb97f" stroke-width="3" opacity="0.5" stroke-linecap="round" stroke-linejoin="round" filter="url(#b1)"/><path d="M262 248 L252 262 L243 276" fill="none" stroke="#fec68a" stroke-width="3" opacity="0.45" stroke-linecap="round" stroke-linejoin="round" filter="url(#b1)"/><ellipse cx="262" cy="262" rx="6" ry="12" fill="#feb27a" opacity="0.5" filter="url(#b2)" transform="rotate(25 262 262)"/><ellipse cx="240" cy="287" rx="11" ry="6" fill="#fd9869" opacity="0.75" filter="url(#b2)" transform="rotate(-20 240 287)"/><ellipse cx="239" cy="288.8" rx="7.5" ry="2.8" fill="#a8588f" opacity="0.6" filter="url(#b1)" transform="rotate(-14 239 288.8)"/><ellipse cx="238.8" cy="288.8" rx="5.4" ry="1.7" fill="#52258a" opacity="0.97" filter="url(#b05)" transform="rotate(-14 238.8 288.8)"/><path d="M206 321 L222 330.5 L238 340.5" fill="none" stroke="#fec287" stroke-width="6" opacity="0.8" stroke-linecap="round" stroke-linejoin="round" filter="url(#b2)"/><path d="M221 330 L229 335 L237 340" fill="none" stroke="#fd9668" stroke-width="2.4" opacity="0.8" stroke-linecap="round" stroke-linejoin="round" filter="url(#b1)"/><path d="M213 297 L230 304 L250 313" fill="none" stroke="#fed194" stroke-width="6" opacity="0.6" stroke-linecap="round" stroke-linejoin="round" filter="url(#b2)"/><ellipse cx="238" cy="322" rx="9" ry="5" fill="#fed799" opacity="0.6" filter="url(#b2)" transform="rotate(-30 238 322)"/><path d="M196 330 L206 340 L220 352" fill="none" stroke="#fde2a3" stroke-width="4" opacity="0.5" stroke-linecap="round" stroke-linejoin="round" filter="url(#b2)"/><polygon points="279,256 287,253 283,262 281.2,270 252.6,339.3 248.5,342 250.4,316 255,304 263,288 270,272" fill="url(#gds)" opacity=".95"/><ellipse cx="264" cy="300" rx="3" ry="10" fill="#feb27a" opacity="0.6" filter="url(#b1)" transform="rotate(22 264 300)"/><rect x="180" y="185" width="140" height="190" filter="url(#nzr)" opacity="0.1" transform="rotate(-60 250.0 280.0)"/></g><path d="M233 221 L284 248.5" fill="none" stroke="#fff" stroke-width="1.1" opacity="1" stroke-linecap="round" stroke-linejoin="round"/><path d="M295.6 221 L285 249.5" fill="none" stroke="#fff" stroke-width="1.5" opacity="1" stroke-linecap="round" stroke-linejoin="round"/><path d="M284 250 L279 256 L270 272 L263 288" fill="none" stroke="#fff" stroke-width="1.3" opacity="1" stroke-linecap="round" stroke-linejoin="round"/><path d="M263 288 L255 304 L253 320 L250 334 L247 345" fill="none" stroke="#fff" stroke-width="0.6" opacity="0.9" stroke-linecap="round" stroke-linejoin="round"/><path d="M255 304 L262 307" fill="none" stroke="#fff" stroke-width="0.5" opacity="0.7" stroke-linecap="round" stroke-linejoin="round"/><path d="M239.5 189.7 L216.6 256.6 L210.6 268.6 L187.3 325.0 L188.4 346.3 L189.6 348.6 L190.8 349.4 L203.0 353.1 L203.9 362.2 L204.7 363.8 L205.9 364.6 L232.6 370.5 L234.4 370.1 L235.8 369.0 L249.0 349.2 L255.9 341.1 L269.2 313.2 L284.7 271.3 L286.5 263.2 L290.3 254.8 L291.6 252.7 L297.0 249.2 L311.1 229.0 L311.7 227.3 L311.2 225.2 L309.9 223.8 L298.1 218.9 L244.7 187.7 L241.8 187.5 L240.3 188.4Z" fill="none" stroke="#1c1c1c" stroke-width="1.1" stroke-dasharray="4.4 3.3"/>
<g clip-path="url(#c9)"><polygon points="349.0,205.7 381.4,193.1 394.3,216.5 368.8,232.7" fill="url(#ge1)"/><path d="M349 205.7 L368.8 232.7" fill="none" stroke="#fea571" stroke-width="3" opacity="0.9" stroke-linecap="round" stroke-linejoin="round" filter="url(#b05)"/><ellipse cx="362" cy="206" rx="6" ry="3" fill="#fed799" opacity="0.6" filter="url(#b2)" transform="rotate(-20 362 206)"/><rect x="340" y="185" width="70" height="60" filter="url(#nzr)" opacity="0.12" transform="rotate(58 375.0 215.0)"/></g>
<g clip-path="url(#c10)"><polygon points="368.8,232.7 394.3,216.5 410.2,247.0 409.3,249.8 385.9,264.2" fill="#fd9869"/><path d="M368.8 232.7 L385.9 264.2" fill="none" stroke="#feb47b" stroke-width="3.5" opacity="0.8" stroke-linecap="round" stroke-linejoin="round" filter="url(#b05)"/><path d="M392 223.5 L400 233 L407.5 243" fill="none" stroke="#aa337d" stroke-width="2.0" opacity="0.8" stroke-linecap="round" stroke-linejoin="round" filter="url(#b1)"/><path d="M383 228 L392 244 L398 254" fill="none" stroke="#e75263" stroke-width="2" opacity="0.6" stroke-linecap="round" stroke-linejoin="round" filter="url(#b1)"/><path d="M376 236 L388 258" fill="none" stroke="#feb27a" stroke-width="2.5" opacity="0.6" stroke-linecap="round" stroke-linejoin="round" filter="url(#b1)"/><rect x="360" y="210" width="60" height="60" filter="url(#nzp)" opacity="0.14" transform="rotate(58 390.0 240.0)"/><rect x="360" y="210" width="60" height="60" filter="url(#nzr)" opacity="0.3" transform="rotate(58 390.0 240.0)"/></g>
<g clip-path="url(#c11)"><polygon points="394.9,212.0 419.2,194.0 476.5,276.5 461.5,288.5 464.5,299.0 445.0,312.5 419.2,260.6 410.6,246.8" fill="url(#ge2)"/><path d="M395.5 213 L410.6 247" fill="none" stroke="#fea571" stroke-width="2.4" opacity="0.8" stroke-linecap="round" stroke-linejoin="round" filter="url(#b05)"/><path d="M412 215 L424 236 L432 250" fill="none" stroke="#feb27a" stroke-width="2.5" opacity="0.7" stroke-linecap="round" stroke-linejoin="round" filter="url(#b1)"/><path d="M420 205 L440 238" fill="none" stroke="#fcecae" stroke-width="3" opacity="0.5" stroke-linecap="round" stroke-linejoin="round" filter="url(#b1)"/><path d="M430 214 L446 240" fill="none" stroke="#fec287" stroke-width="2" opacity="0.6" stroke-linecap="round" stroke-linejoin="round" filter="url(#b1)"/><ellipse cx="452" cy="276" rx="8" ry="16" fill="#aa337d" opacity="0.45" filter="url(#b3)" transform="rotate(-32 452 276)"/><path d="M437 236 L441 244 L446 253" fill="none" stroke="#f3655c" stroke-width="2.2" opacity="0.5" stroke-linecap="round" stroke-linejoin="round" filter="url(#b1)"/><path d="M446 254.5 L450 260.5 L454.2 265.7" fill="none" stroke="#38106c" stroke-width="3.4" opacity="0.95" stroke-linecap="round" stroke-linejoin="round" filter="url(#b1)"/><path d="M454.2 265.7 L458 272 L462.3 280" fill="none" stroke="#641a80" stroke-width="3" opacity="0.8" stroke-linecap="round" stroke-linejoin="round" filter="url(#b1)"/><path d="M429.8 271.1 L438.8 282.8 L445 296 L450 304" fill="none" stroke="#5a167e" stroke-width="2.8" opacity="0.9" stroke-linecap="round" stroke-linejoin="round" filter="url(#b1)"/><path d="M440.6 274.7 L447 283.7" fill="none" stroke="#912b81" stroke-width="2" opacity="0.7" stroke-linecap="round" stroke-linejoin="round" filter="url(#b1)"/><path d="M458.5 270.5 L465 283" fill="none" stroke="#802582" stroke-width="2" opacity="0.8" stroke-linecap="round" stroke-linejoin="round" filter="url(#b1)"/><path d="M449.5 288.5 L456 301" fill="none" stroke="#912b81" stroke-width="2" opacity="0.7" stroke-linecap="round" stroke-linejoin="round" filter="url(#b1)"/><path d="M434 262 L446 282" fill="none" stroke="#cd4071" stroke-width="2" opacity="0.5" stroke-linecap="round" stroke-linejoin="round" filter="url(#b1)"/><path d="M413.2 247.5 L421.4 260.6 L446.6 311" fill="none" stroke="#fec88c" stroke-width="2.6" opacity="0.95" stroke-linecap="round" stroke-linejoin="round" filter="url(#b05)"/><polygon points="422.5,255.5 452.5,245 454,250.2 424.2,261" fill="#fde2a3" opacity=".95"/><polygon points="423.5,263.9 443.3,256.7 444.8,260.9 425.2,268.3" fill="#fed597" opacity=".85"/><rect x="385" y="190" width="100" height="130" filter="url(#nzr)" opacity="0.18" transform="rotate(58 435.0 255.0)"/><g clip-path="url(#ce2lo)"><rect x="385" y="190" width="100" height="130" filter="url(#nzp)" opacity="0.3" transform="rotate(58 435.0 255.0)"/></g></g>
<g clip-path="url(#c12)"><polygon points="385.9,264.8 409.8,250.4 412.4,249.2 419.2,261.5 445.0,313.0 424.0,332.0" fill="url(#ge3)"/><path d="M403.6 272.9 L413.5 298.2 L418 312.6 L424 322" fill="none" stroke="#912b81" stroke-width="2.2" opacity="0.8" stroke-linecap="round" stroke-linejoin="round" filter="url(#b1)"/><path d="M414 268 L427 289 L441.5 312" fill="none" stroke="#d6456c" stroke-width="2" opacity="0.6" stroke-linecap="round" stroke-linejoin="round" filter="url(#b1)"/><path d="M389 268 L408 300 L424 330" fill="none" stroke="#fec68a" stroke-width="3" opacity="0.8" stroke-linecap="round" stroke-linejoin="round" filter="url(#b1)"/><path d="M414 256 L430 286" fill="none" stroke="#feb77e" stroke-width="2" opacity="0.6" stroke-linecap="round" stroke-linejoin="round" filter="url(#b1)"/><rect x="380" y="245" width="70" height="90" filter="url(#nzp)" opacity="0.14" transform="rotate(62 415.0 290.0)"/><rect x="380" y="245" width="70" height="90" filter="url(#nzr)" opacity="0.3" transform="rotate(62 415.0 290.0)"/></g><path d="M394.7 212.5 L410.6 247 L419.2 261 L445 313" fill="none" stroke="#fff" stroke-width="0.8" opacity="1" stroke-linecap="round" stroke-linejoin="round"/><path d="M385.9 264.5 L409.6 250.1" fill="none" stroke="#fff" stroke-width="0.8" opacity="1" stroke-linecap="round" stroke-linejoin="round"/><path d="M365.3 234.9 L382.3 266.8 L420.4 334.0 L421.7 335.4 L423.5 336.1 L425.2 335.9 L426.6 335.2 L448.6 315.0 L467.6 301.7 L468.4 300.4 L468.6 298.5 L466.2 290.0 L479.2 279.6 L480.6 277.1 L479.9 274.2 L422.6 191.7 L421.2 190.4 L419.7 189.9 L416.9 190.6 L394.0 207.5 L384.9 190.9 L383.5 189.6 L381.7 189.0 L379.9 189.3 L347.5 201.9 L345.4 203.8 L344.9 205.7 L345.4 207.6Z" fill="none" stroke="#1c1c1c" stroke-width="1.1" stroke-dasharray="4.4 3.3"/>
<g clip-path="url(#c13)"><polygon points="28.0,457.0 50.0,446.0 55.0,462.0 35.0,475.0" fill="url(#gf1)"/><path d="M37 474 L54 462.5" fill="none" stroke="#641a80" stroke-width="1.5" opacity="0.9" stroke-linecap="round" stroke-linejoin="round" filter="url(#b05)"/><rect x="25" y="443" width="34" height="34" filter="url(#nzp)" opacity="0.25" transform="rotate(-60 42.0 460.0)"/></g>
<g clip-path="url(#c14)"><polygon points="67.0,453.0 85.0,444.0 90.0,459.0 71.0,466.0" fill="url(#gf2)"/></g>
<g clip-path="url(#c15)"><polygon points="28.0,487.0 36.0,484.0 41.0,504.0 34.0,506.0" fill="url(#gf3)"/></g>
<g clip-path="url(#c16)"><polygon points="26.0,510.0 41.0,505.0 45.0,527.0 37.0,532.0" fill="url(#gf4)"/></g>
<g clip-path="url(#c17)"><polygon points="139.9,402.6 152.5,433.4 131.5,441.8 122.4,417.3" fill="url(#gf5)"/><ellipse cx="128" cy="425" rx="4" ry="9" fill="#feb77e" opacity="0.8" filter="url(#b2)" transform="rotate(-20 128 425)"/><rect x="118" y="398" width="40" height="48" filter="url(#nzp)" opacity="0.25" transform="rotate(-70 138.0 422.0)"/></g><path d="M25.3 457.9 L32.4 476.2 L33.2 477.3 L34.5 477.9 L36.5 477.5 L56.6 464.4 L57.9 462.4 L52.7 445.0 L51.7 443.7 L50.5 443.1 L48.7 443.4 L26.6 454.5 L25.3 456.0Z" fill="none" stroke="#1c1c1c" stroke-width="1.1" stroke-dasharray="4.4 3.3"/><path d="M64.2 453.7 L68.4 467.2 L69.2 468.3 L70.5 468.9 L72.0 468.7 L91.1 461.7 L92.2 460.9 L92.8 459.6 L92.8 458.1 L87.7 442.9 L86.8 441.8 L85.6 441.2 L83.8 441.4 L65.6 450.5 L64.3 452.0Z" fill="none" stroke="#1c1c1c" stroke-width="1.1" stroke-dasharray="4.4 3.3"/><path d="M138.1 400.3 L120.4 415.2 L119.5 416.8 L119.7 418.3 L128.8 442.9 L129.7 444.1 L131.0 444.7 L132.6 444.5 L153.7 436.0 L154.8 435.2 L155.4 433.9 L155.2 432.3 L142.5 401.4 L140.6 399.8Z" fill="none" stroke="#1c1c1c" stroke-width="1.1" stroke-dasharray="4.4 3.3"/><path d="M30.8 505.4 L24.4 507.6 L23.3 508.9 L23.2 510.6 L34.5 533.4 L35.9 534.7 L37.6 534.8 L46.7 529.4 L47.6 528.3 L47.9 526.9 L43.8 503.3 L38.8 483.1 L38.0 481.9 L36.8 481.2 L35.1 481.2 L26.8 484.3 L25.2 486.3 L25.2 487.9Z" fill="none" stroke="#1c1c1c" stroke-width="1.1" stroke-dasharray="4.4 3.3"/>
<g clip-path="url(#c18)"><polygon points="210.0,418.0 230.0,413.0 235.0,445.4 216.0,448.0" fill="#fea772"/><path d="M212 434 L219 428 L227 422.5" fill="none" stroke="#e04c67" stroke-width="3.5" opacity="0.65" stroke-linecap="round" stroke-linejoin="round" filter="url(#b1)"/><ellipse cx="214" cy="424" rx="2.5" ry="6" fill="#fec68a" opacity="0.7" filter="url(#b1)" transform="rotate(5 214 424)"/><ellipse cx="228" cy="438" rx="3" ry="6" fill="#fec68a" opacity="0.6" filter="url(#b1)" transform="rotate(5 228 438)"/><rect x="205" y="410" width="35" height="42" filter="url(#nzr)" opacity="0.3" transform="rotate(-50 222.5 431.0)"/></g>
<g clip-path="url(#c19)"><polygon points="241.6,410.0 292.0,402.0 293.0,407.2 287.2,408.8 288.2,421.0 272.0,423.2 246.0,426.8" fill="url(#gg2)"/><ellipse cx="279" cy="418.5" rx="7" ry="2.6" fill="#aa337d" opacity="0.7" filter="url(#b1)" transform="rotate(-8 279 418.5)"/><ellipse cx="262" cy="414" rx="8" ry="2" fill="#fc9065" opacity="0.5" filter="url(#b2)" transform="rotate(-10 262 414)"/><ellipse cx="250" cy="418" rx="4" ry="5" fill="#fed597" opacity="0.6" filter="url(#b2)"/><rect x="238" y="398" width="60" height="32" filter="url(#nzr)" opacity="0.3" transform="rotate(-20 268.0 414.0)"/></g>
<g clip-path="url(#c20)"><polygon points="235.0,431.0 272.0,423.6 268.0,433.0 262.0,443.0 256.4,454.0 241.2,462.0 237.0,447.0" fill="#fed194"/><path d="M270 425 L258 438 L246 452 L241 461" fill="none" stroke="#f8765c" stroke-width="2.2" opacity="0.7" stroke-linecap="round" stroke-linejoin="round" filter="url(#b1)"/><path d="M238 434 L243 448" fill="none" stroke="#fea16e" stroke-width="2" opacity="0.55" stroke-linecap="round" stroke-linejoin="round" filter="url(#b1)"/><path d="M262 426 L252 436" fill="none" stroke="#fd9869" stroke-width="1.6" opacity="0.5" stroke-linecap="round" stroke-linejoin="round" filter="url(#b1)"/><rect x="230" y="420" width="46" height="46" filter="url(#nzr)" opacity="0.3" transform="rotate(-50 253.0 443.0)"/></g>
<g clip-path="url(#c21)"><polygon points="196.8,452.8 236.4,446.0 241.2,462.0 231.6,472.9 201.1,478.2" fill="url(#gg4)"/><path d="M206 460 L216 455 L226 453 L234 457" fill="none" stroke="#d6456c" stroke-width="1.8" opacity="0.6" stroke-linecap="round" stroke-linejoin="round" filter="url(#b1)"/><ellipse cx="205" cy="472" rx="5" ry="4" fill="#641a80" opacity="0.7" filter="url(#b1)" transform="rotate(-20 205 472)"/><path d="M212 452 L214 476" fill="none" stroke="#fec68a" stroke-width="1" opacity="0.35" stroke-linecap="round" stroke-linejoin="round" filter="url(#b05)"/><rect x="194" y="442" width="50" height="40" filter="url(#nzp)" opacity="0.25" transform="rotate(-30 219.0 462.0)"/></g>
<g clip-path="url(#c22)"><polygon points="201.1,478.2 231.6,472.9 249.6,522.4 217.2,529.6" fill="#85458f"/><ellipse cx="222" cy="500" rx="9" ry="20" fill="#641a80" opacity="0.6" filter="url(#b3)" transform="rotate(-18 222 500)"/><path d="M204 482 L212 492 L222 502 L230 512 L238 521" fill="none" stroke="#38106c" stroke-width="3.4" opacity="0.75" stroke-linecap="round" stroke-linejoin="round" filter="url(#b1)"/><path d="M226 478 L232 500 L244 518" fill="none" stroke="#4f127b" stroke-width="2.6" opacity="0.65" stroke-linecap="round" stroke-linejoin="round" filter="url(#b1)"/><path d="M208 500 L216 516 L222 527" fill="none" stroke="#451077" stroke-width="2.4" opacity="0.6" stroke-linecap="round" stroke-linejoin="round" filter="url(#b1)"/><ellipse cx="219" cy="514" rx="2.6" ry="4.5" fill="#fea16e" opacity="0.9" filter="url(#b1)" transform="rotate(-15 219 514)"/><ellipse cx="237" cy="489" rx="2.2" ry="6" fill="#fa815f" opacity="0.7" filter="url(#b1)" transform="rotate(-20 237 489)"/><ellipse cx="212" cy="488" rx="2.5" ry="4.5" fill="#cd4071" opacity="0.6" filter="url(#b1)" transform="rotate(-20 212 488)"/><ellipse cx="229" cy="525" rx="7" ry="2.2" fill="#fea16e" opacity="0.6" filter="url(#b1)" transform="rotate(-12 229 525)"/><path d="M203 479 L231 474" fill="none" stroke="#cd4071" stroke-width="2" opacity="0.5" stroke-linecap="round" stroke-linejoin="round" filter="url(#b1)"/><rect x="196" y="468" width="58" height="66" filter="url(#nzp)" opacity="0.45" transform="rotate(-65 225.0 501.0)"/><rect x="196" y="468" width="58" height="66" filter="url(#nzl2)" opacity="0.25" transform="rotate(-60 225.0 501.0)"/></g>
<g clip-path="url(#c23)"><polygon points="231.6,472.9 241.2,462.0 256.4,454.0 271.2,494.8 243.2,501.6" fill="#fec488"/><path d="M233 474 L242 480 L254 486 L264 489" fill="none" stroke="#912b81" stroke-width="1.8" opacity="0.75" stroke-linecap="round" stroke-linejoin="round" filter="url(#b1)"/><ellipse cx="251" cy="471" rx="6" ry="4" fill="#fddc9e" opacity="0.7" filter="url(#b2)"/><ellipse cx="255" cy="496" rx="8" ry="3" fill="#feb27a" opacity="0.5" filter="url(#b2)" transform="rotate(-15 255 496)"/><rect x="228" y="450" width="48" height="56" filter="url(#nzr)" opacity="0.3" transform="rotate(25 252.0 478.0)"/></g>
<g clip-path="url(#c24)"><polygon points="256.4,454.0 282.0,443.2 301.2,481.6 274.8,498.4 271.2,494.8" fill="#feb27a"/><path d="M258.5 456 L268 457 L280 460" fill="none" stroke="#802582" stroke-width="2.2" opacity="0.8" stroke-linecap="round" stroke-linejoin="round" filter="url(#b1)"/><path d="M266 470 L290 476" fill="none" stroke="#fc9065" stroke-width="2" opacity="0.5" stroke-linecap="round" stroke-linejoin="round" filter="url(#b1)"/><path d="M270 482 L292 484" fill="none" stroke="#fd9869" stroke-width="2" opacity="0.5" stroke-linecap="round" stroke-linejoin="round" filter="url(#b1)"/><ellipse cx="284" cy="452" rx="6" ry="4" fill="#fec68a" opacity="0.6" filter="url(#b2)" transform="rotate(-20 284 452)"/><rect x="252" y="440" width="54" height="62" filter="url(#nzr)" opacity="0.35" transform="rotate(8 279.0 471.0)"/></g><path d="M235 431 L237 447 L241.2 462 L256.4 454 L271.2 494.8" fill="none" stroke="#fff" stroke-width="0.8" opacity="1" stroke-linecap="round" stroke-linejoin="round"/><path d="M231.6 472.9 L241.2 462" fill="none" stroke="#fff" stroke-width="0.9" opacity="1" stroke-linecap="round" stroke-linejoin="round"/><path d="M196.8 452.8 L216 448.2 L236.4 445.8" fill="none" stroke="#fff" stroke-width="0.9" opacity="1" stroke-linecap="round" stroke-linejoin="round"/><path d="M201.1 478.2 L231.6 472.9 L243.2 501.6" fill="none" stroke="#fff" stroke-width="0.8" opacity="1" stroke-linecap="round" stroke-linejoin="round"/><path d="M272 423.4 L235 431" fill="none" stroke="#fff" stroke-width="0.8" opacity="1" stroke-linecap="round" stroke-linejoin="round"/><path d="M256.4 454 L268 433" fill="none" stroke="#fff" stroke-width="0.5" opacity="1" stroke-linecap="round" stroke-linejoin="round"/><path d="M212.2 446.6 L195.7 449.5 L193.9 450.9 L193.3 452.9 L197.7 479.2 L213.9 530.8 L214.6 532.0 L216.1 532.9 L218.0 533.0 L251.2 525.5 L252.8 523.8 L253.0 521.7 L246.8 504.3 L270.1 498.7 L273.3 501.5 L275.9 501.7 L303.1 484.6 L304.5 482.9 L304.7 481.5 L304.3 480.0 L284.4 440.6 L282.5 439.7 L280.8 439.9 L263.9 447.1 L271.1 434.6 L274.5 426.6 L288.9 424.4 L291.1 422.9 L291.7 420.9 L290.9 411.4 L295.0 410.0 L296.1 408.8 L296.5 407.4 L295.3 400.8 L294.4 399.5 L293.3 398.7 L291.5 398.5 L239.9 406.9 L238.5 408.4 L238.1 410.4 L242.2 426.0 L235.7 427.3 L233.4 412.3 L232.7 410.8 L231.3 409.8 L229.2 409.6 L208.1 415.1 L206.8 416.6 L206.5 418.5Z" fill="none" stroke="#1c1c1c" stroke-width="1.1" stroke-dasharray="4.4 3.3"/>
<text x="10.3" y="26.2" font-size="9.9" font-weight="bold" fill="#111">(a)</text>
<text x="344.7" y="26.2" font-size="9.9" font-weight="bold" fill="#111">(b)</text>
<text x="14.5" y="195.8" font-size="9.9" font-weight="bold" fill="#111">(c)</text>
<text x="178.5" y="195.8" font-size="9.9" font-weight="bold" fill="#111">(d)</text>
<text x="339.9" y="195.8" font-size="9.9" font-weight="bold" fill="#111">(e)</text>
<text x="16.5" y="399" font-size="9.9" font-weight="bold" fill="#111">(f)</text>
<text x="178.7" y="399" font-size="9.9" font-weight="bold" fill="#111">(g)</text>
<path d="M115.4 154.79999999999998V159.2H143.2V154.79999999999998M122.3 159.2V156.39999999999998M129.3 159.2V156.39999999999998M136.2 159.2V156.39999999999998" fill="none" stroke="#2a2a2a" stroke-width="0.9"/>
<text x="115.4" y="153.8" font-size="6.2" text-anchor="middle" fill="#333">0</text>
<text x="129.3" y="153.8" font-size="6.2" text-anchor="middle" fill="#333">100</text>
<text x="143.2" y="153.8" font-size="6.2" text-anchor="middle" fill="#333">200</text>
<text x="129.3" y="164.5" font-size="6.2" text-anchor="middle" fill="#333">Meters</text>
<path d="M446 153.4V157.8H481.8V153.4M454.9 157.8V155.0M463.9 157.8V155.0M472.9 157.8V155.0" fill="none" stroke="#2a2a2a" stroke-width="0.9"/>
<text x="446.0" y="152.4" font-size="6.2" text-anchor="middle" fill="#333">0</text>
<text x="463.9" y="152.4" font-size="6.2" text-anchor="middle" fill="#333">300</text>
<text x="481.8" y="152.4" font-size="6.2" text-anchor="middle" fill="#333">600</text>
<text x="463.9" y="163.1" font-size="6.2" text-anchor="middle" fill="#333">Meters</text>
<path d="M21.4 359.0V363.4H53.4V359.0M29.4 363.4V360.59999999999997M37.4 363.4V360.59999999999997M45.4 363.4V360.59999999999997" fill="none" stroke="#2a2a2a" stroke-width="0.9"/>
<text x="21.4" y="358.0" font-size="6.2" text-anchor="middle" fill="#333">0</text>
<text x="37.4" y="358.0" font-size="6.2" text-anchor="middle" fill="#333">200</text>
<text x="53.4" y="358.0" font-size="6.2" text-anchor="middle" fill="#333">400</text>
<text x="37.4" y="368.7" font-size="6.2" text-anchor="middle" fill="#333">Meters</text>
<path d="M279.4 359.0V363.4H313.4V359.0M287.9 363.4V360.59999999999997M296.4 363.4V360.59999999999997M304.9 363.4V360.59999999999997" fill="none" stroke="#2a2a2a" stroke-width="0.9"/>
<text x="279.4" y="358.0" font-size="6.2" text-anchor="middle" fill="#333">0</text>
<text x="296.4" y="358.0" font-size="6.2" text-anchor="middle" fill="#333">100</text>
<text x="313.4" y="358.0" font-size="6.2" text-anchor="middle" fill="#333">200</text>
<text x="296.4" y="368.7" font-size="6.2" text-anchor="middle" fill="#333">Meters</text>
<path d="M348.2 325.8V330.2H377.6V325.8M355.6 330.2V327.4M362.9 330.2V327.4M370.2 330.2V327.4" fill="none" stroke="#2a2a2a" stroke-width="0.9"/>
<text x="348.2" y="324.8" font-size="6.2" text-anchor="middle" fill="#333">0</text>
<text x="362.9" y="324.8" font-size="6.2" text-anchor="middle" fill="#333">100</text>
<text x="377.6" y="324.8" font-size="6.2" text-anchor="middle" fill="#333">200</text>
<text x="362.9" y="335.5" font-size="6.2" text-anchor="middle" fill="#333">Meters</text>
<path d="M119.4 528.8000000000001V533.2H149.2V528.8000000000001M126.8 533.2V530.4000000000001M134.3 533.2V530.4000000000001M141.8 533.2V530.4000000000001" fill="none" stroke="#2a2a2a" stroke-width="0.9"/>
<text x="119.4" y="527.8" font-size="6.2" text-anchor="middle" fill="#333">0</text>
<text x="134.3" y="527.8" font-size="6.2" text-anchor="middle" fill="#333">200</text>
<text x="149.2" y="527.8" font-size="6.2" text-anchor="middle" fill="#333">400</text>
<text x="134.3" y="538.5" font-size="6.2" text-anchor="middle" fill="#333">Meters</text>
<path d="M289.4 528.8000000000001V533.2H315.8V528.8000000000001M296.0 533.2V530.4000000000001M302.6 533.2V530.4000000000001M309.2 533.2V530.4000000000001" fill="none" stroke="#2a2a2a" stroke-width="0.9"/>
<text x="289.4" y="527.8" font-size="6.2" text-anchor="middle" fill="#333">0</text>
<text x="302.6" y="527.8" font-size="6.2" text-anchor="middle" fill="#333">100</text>
<text x="315.8" y="527.8" font-size="6.2" text-anchor="middle" fill="#333">200</text>
<text x="302.6" y="538.5" font-size="6.2" text-anchor="middle" fill="#333">Meters</text>
<path d="M283 153.2V157.6H318.6V153.2M291.9 157.6V154.79999999999998M300.8 157.6V154.79999999999998M309.7 157.6V154.79999999999998" fill="none" stroke="#2a2a2a" stroke-width="0.9"/>
<text x="283.0" y="152.2" font-size="6.2" text-anchor="middle" fill="#333">0</text>
<text x="300.8" y="152.2" font-size="6.2" text-anchor="middle" fill="#333">40</text>
<text x="318.6" y="152.2" font-size="6.2" text-anchor="middle" fill="#333">80</text>
<text x="300.8" y="162.9" font-size="6.2" text-anchor="middle" fill="#333">Kilometers</text>

<g font-weight="bold" font-size="10.1" fill="#111">
<text x="340" y="364.2">Leave-one-area-out</text>
<text x="340" y="375.8">predictions by the RF of</text>
<text x="340" y="389.2">soil erosion rates [t ha<tspan font-size="6.2" dy="-4.1">−1</tspan><tspan dy="4.1"> yr</tspan><tspan font-size="6.2" dy="-4.1">−1</tspan><tspan dy="4.1">]</tspan></text>
</g>
<rect x="340.1" y="402.5" width="28.4" height="105.5" fill="url(#magma)"/>
<text x="372.6" y="410.9" font-size="8.4" fill="#222">2.7</text>
<text x="372.6" y="506.4" font-size="8.4" fill="#222">0</text>
<path d="M343.6 531H365" stroke="#1c1c1c" stroke-width="1" stroke-dasharray="3.4 2.6"/>
<text x="370" y="534.5" font-size="9" fill="#222">Extent of study area</text>

</svg>
</body></html>
